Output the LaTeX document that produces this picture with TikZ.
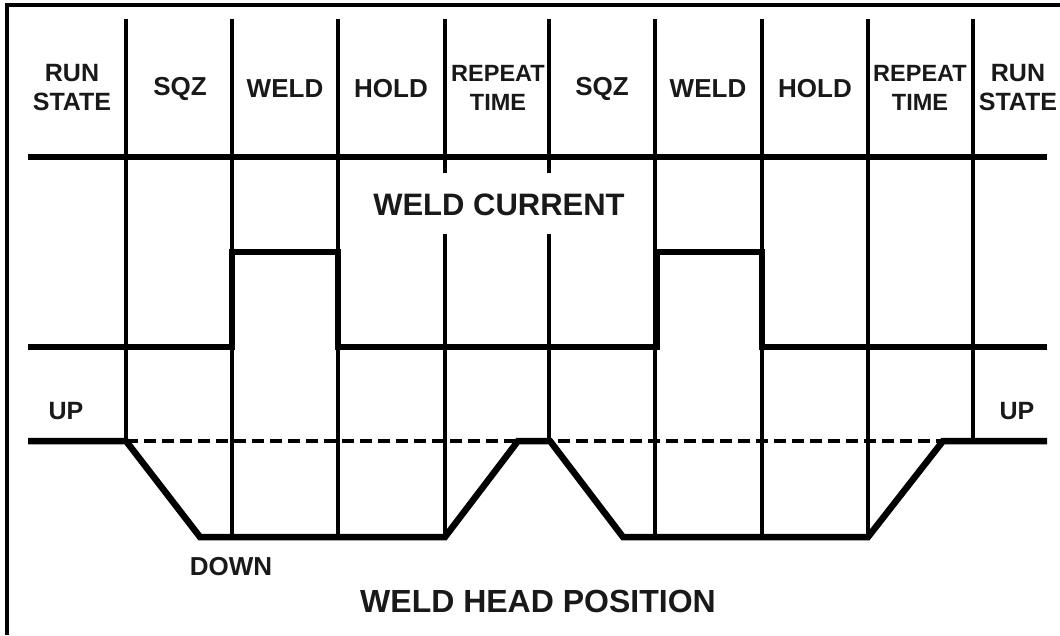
\documentclass[tikz,border=0pt]{standalone}
\usepackage{fontspec}
\setmainfont{Liberation Sans}
\begin{document}
\begin{tikzpicture}[x=1pt,y=-1pt,
  gridline/.style={line width=3.4pt,black},
  wave/.style={line width=5.5pt,black,line join=miter},
  headline/.style={line width=6.5pt,black,line join=miter},
  upline/.style={line width=3.8pt,black,dash pattern=on 12pt off 6pt},
  hdr/.style={font=\fontsize{25}{29}\selectfont\bfseries,align=center,inner sep=0pt,text=black!90},
  big/.style={font=\fontsize{31}{34}\selectfont\bfseries,inner sep=0pt,text=black!90}]
\useasboundingbox (0,0) rectangle (1060,635);
% frame
\draw[line width=4pt] (7,635) -- (7,5) -- (1060,5);
% grid verticals
\foreach \x/\e in {126/441,232/537,338/537,445/537,549/441,655/537,762/537,868/537,973/441}
  \draw[gridline] (\x,19) -- (\x,\e);
% header separator
\draw[line width=5.5pt] (28,157) -- (1047,157);
% header labels
\node[hdr] (rs1) at (72,88) {RUN\\STATE};
\node[hdr,font=\fontsize{26}{29}\selectfont\bfseries] (sqz1) at (180,89) {SQZ};
\node[hdr,font=\fontsize{26}{29}\selectfont\bfseries] (weld1) at (285,89) {WELD};
\node[hdr,font=\fontsize{26}{29}\selectfont\bfseries] (hold1) at (391,89) {HOLD};
\node[hdr,font=\fontsize{23.5}{29}\selectfont\bfseries] (rep1) at (498,88) {REPEAT\\TIME};
\node[hdr,font=\fontsize{26}{29}\selectfont\bfseries] (sqz2) at (602,89) {SQZ};
\node[hdr,font=\fontsize{26}{29}\selectfont\bfseries] (weld2) at (708,89) {WELD};
\node[hdr,font=\fontsize{26}{29}\selectfont\bfseries] (hold2) at (815,89) {HOLD};
\node[hdr,font=\fontsize{23.5}{29}\selectfont\bfseries] (rep2) at (920,88) {REPEAT\\TIME};
\node[hdr] (rs2) at (1018,88) {RUN\\STATE};
% weld current label with white backing
\node[fill=white,minimum width=268pt,minimum height=61pt,inner sep=0pt] (wcbox) at (499,203.5) {};
\node[big] (wc) at (499,205) {WELD CURRENT};
% weld current waveform
\draw[wave] (28,347) -- (232,347) -- (232,252) -- (338,252) -- (338,347)
  -- (657,347) -- (657,252) -- (762,252) -- (762,347) -- (1047,347);
% weld head position
\draw[upline] (126,441) -- (943,441);
\draw[headline] (28,441) -- (126,441) -- (200,537) -- (445,537) -- (518,441)
  -- (550,441) -- (623,537) -- (868,537) -- (943,441) -- (1047,441);
\node[hdr] (up1) at (66,411) {UP};
\node[hdr] (up2) at (1017,411) {UP};
\node[hdr,font=\fontsize{26}{29}\selectfont\bfseries] (down) at (231,567) {DOWN};
\node[big,font=\fontsize{32}{34}\selectfont\bfseries] (whp) at (538,601) {WELD HEAD POSITION};
\end{tikzpicture}
\end{document}
